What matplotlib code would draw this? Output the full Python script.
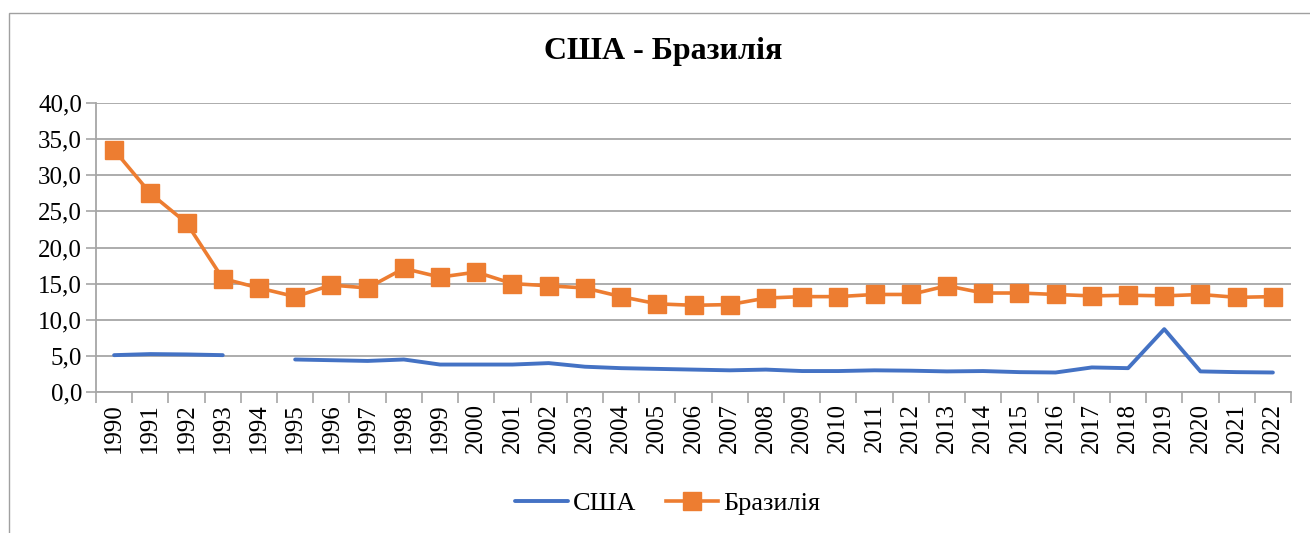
import matplotlib
matplotlib.use("Agg")
import matplotlib.pyplot as plt
import numpy as np
from matplotlib.patches import Rectangle

years = [str(y) for y in range(1990, 2023)]
usa = [5.1, 5.25, 5.2, 5.1, np.nan, 4.5, 4.4, 4.3, 4.5, 3.8, 3.8,
       3.8, 4.0, 3.5, 3.3, 3.2, 3.1, 3.0, 3.1, 2.9, 2.9, 3.0, 2.95,
       2.85, 2.9, 2.75, 2.7, 3.4, 3.3, 8.7, 2.85, 2.75, 2.7]
brazil = [33.5, 27.5, 23.4, 15.7, 14.4, 13.2, 14.8, 14.4, 17.1, 15.9, 16.6,
          15.0, 14.7, 14.4, 13.2, 12.2, 12.0, 12.1, 13.0, 13.2, 13.2, 13.5, 13.5,
          14.7, 13.7, 13.7, 13.5, 13.3, 13.4, 13.3, 13.5, 13.1, 13.2]
yticks = [0, 5, 10, 15, 20, 25, 30, 35, 40]
title = "США - Бразилія"
series_names = ["США", "Бразилія"]

plt.rcParams['font.family'] = ['Liberation Serif', 'DejaVu Serif']

W, H = 1310, 533
fig = plt.figure(figsize=(W / 100, H / 100), dpi=100)
fig.patch.set_facecolor('white')
fig.patches.append(Rectangle((9 / W, -0.1), 2.0, 1.1 - 13 / H, transform=fig.transFigure,
                             fill=False, edgecolor='#a0a0a0', linewidth=1.0))

ax = fig.add_axes([96 / W, 1 - 392 / H, (1291 - 96) / W, (392 - 103) / H])
x = np.arange(len(years))
ax.plot(x, usa, color='#4472C4', linewidth=2.8, label=series_names[0], solid_capstyle='round')
ax.plot(x, brazil, color='#ED7D31', linewidth=2.6, marker='s', markersize=12.5,
        markeredgecolor='#ED7D31', label=series_names[1])

ax.set_xlim(-0.5, len(years) - 0.5)
ax.set_ylim(0, 40)
ax.set_yticks(yticks)
ax.set_yticklabels([f"{v:.1f}".replace('.', ',') for v in yticks], fontsize=18)
ax.yaxis.grid(True, color='#a6a6a6', linewidth=1.3)
ax.set_axisbelow(True)

ax.set_xticks(np.arange(-0.5, len(years)), labels=[''] * (len(years) + 1))
ax.set_xticks(x, minor=True)
ax.set_xticklabels(years, minor=True, rotation=90, fontsize=18)
ax.tick_params(axis='x', which='major', length=8, color='#a6a6a6', width=1.2)
ax.tick_params(axis='x', which='minor', length=0, pad=8)
ax.tick_params(axis='y', length=7, color='#a6a6a6', width=1.2, pad=3)

for s in ['top', 'right']:
    ax.spines[s].set_visible(False)
for s in ['left', 'bottom']:
    ax.spines[s].set_color('#a6a6a6')
    ax.spines[s].set_linewidth(1.3)

fig.text(663 / W, 1 - 52 / H, title, ha='center', va='center', fontsize=23, fontweight='bold')

leg = fig.legend(loc='center', bbox_to_anchor=(668 / W, 1 - 503 / H), ncol=2, frameon=False,
                 fontsize=19, handlelength=2.0, columnspacing=1.1, handletextpad=0.2)

fig.savefig('out.png', dpi=100, facecolor='white')
